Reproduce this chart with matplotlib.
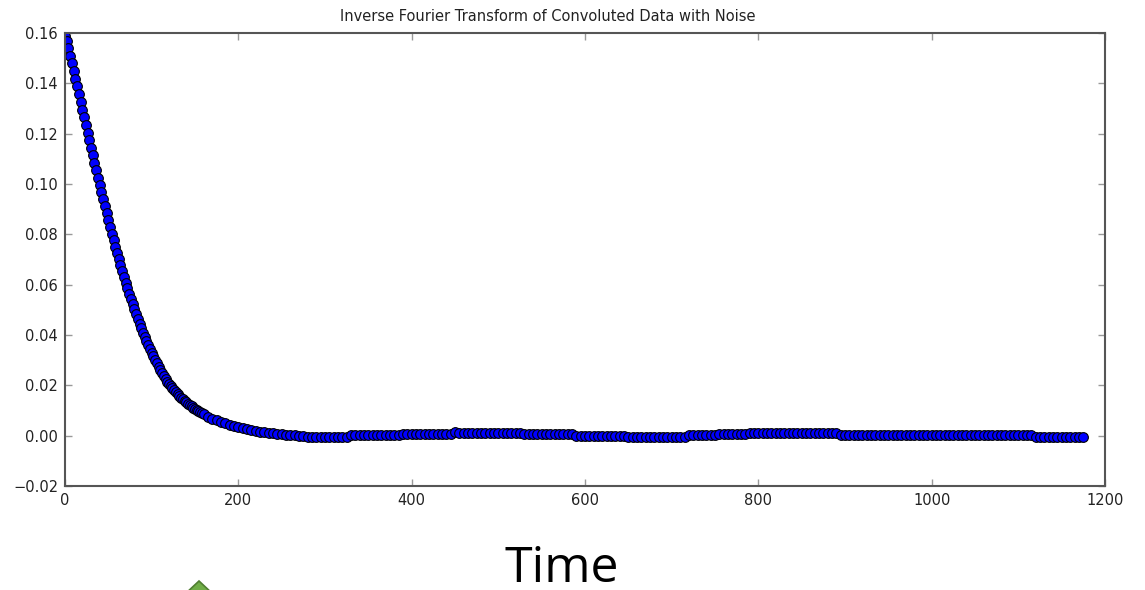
import numpy as np
import matplotlib
matplotlib.use('Agg')
import matplotlib.pyplot as plt
from matplotlib.patches import Polygon

plt.rcParams['font.family'] = ['DejaVu Sans']

title = 'Inverse Fourier Transform of Convoluted Data with Noise'
x_label = 'Time'

# decay part, sampled every 2 time units (0..160)
x_decay = np.arange(0, 161, 2)
y_decay = [
    0.1590, 0.1570, 0.1540, 0.1510, 0.1480, 0.1449, 0.1419, 0.1388, 0.1357, 0.1327,
    0.1296, 0.1265, 0.1235, 0.1204, 0.1174, 0.1144, 0.1114, 0.1084, 0.1054, 0.1025,
    0.0996, 0.0967, 0.0939, 0.0911, 0.0883, 0.0856, 0.0829, 0.0802, 0.0776, 0.0751,
    0.0726, 0.0701, 0.0677, 0.0653, 0.0630, 0.0608, 0.0585, 0.0564, 0.0543, 0.0522,
    0.0502, 0.0482, 0.0463, 0.0445, 0.0427, 0.0409, 0.0392, 0.0376, 0.0360, 0.0344,
    0.0329, 0.0315, 0.0301, 0.0287, 0.0274, 0.0261, 0.0249, 0.0238, 0.0226, 0.0215,
    0.0205, 0.0196, 0.0188, 0.0180, 0.0172, 0.0165, 0.0157, 0.0151, 0.0144, 0.0138,
    0.0132, 0.0126, 0.0121, 0.0116, 0.0111, 0.0106, 0.0101, 0.0097, 0.0093, 0.0089,
    0.0085,
]

# tail, sampled every 5 time units (165..1175)
x_tail = np.arange(165, 1176, 5)
y_tail = [
    0.0076, 0.0068, 0.0061, 0.0055, 0.0049, 0.0044, 0.0039, 0.0034, 0.0030, 0.0026,
    0.0022, 0.0019, 0.0016, 0.0013, 0.0011, 0.0009, 0.0007, 0.0005, 0.0003, 0.0002,
    0.0001, 0.0000, -0.0002, -0.0004, -0.0004, -0.0004, -0.0004, -0.0004, -0.0004, -0.0004,
    -0.0004, -0.0004, -0.0004, 0.0002, 0.0002, 0.0002, 0.0002, 0.0002, 0.0002, 0.0002,
    0.0002, 0.0002, 0.0002, 0.0002, 0.0002, 0.0008, 0.0008, 0.0008, 0.0008, 0.0008,
    0.0008, 0.0008, 0.0008, 0.0008, 0.0008, 0.0008, 0.0008, 0.0016, 0.0010, 0.0010,
    0.0010, 0.0010, 0.0010, 0.0010, 0.0010, 0.0010, 0.0010, 0.0010, 0.0010, 0.0010,
    0.0010, 0.0010, 0.0010, 0.0005, 0.0005, 0.0005, 0.0005, 0.0005, 0.0005, 0.0005,
    0.0005, 0.0005, 0.0005, 0.0005, 0.0005, 0.0000, 0.0000, 0.0000, 0.0000, 0.0000,
    0.0000, 0.0000, 0.0000, 0.0000, 0.0000, 0.0000, 0.0000, -0.0005, -0.0005, -0.0005,
    -0.0005, -0.0005, -0.0005, -0.0005, -0.0005, -0.0005, -0.0005, -0.0005, -0.0005, -0.0005,
    -0.0005, 0.0001, 0.0001, 0.0001, 0.0001, 0.0001, 0.0001, 0.0001, 0.0006, 0.0006,
    0.0006, 0.0006, 0.0006, 0.0006, 0.0006, 0.0009, 0.0009, 0.0009, 0.0009, 0.0009,
    0.0009, 0.0009, 0.0009, 0.0009, 0.0009, 0.0009, 0.0009, 0.0009, 0.0009, 0.0009,
    0.0009, 0.0009, 0.0009, 0.0009, 0.0009, 0.0009, 0.0004, 0.0004, 0.0004, 0.0004,
    0.0004, 0.0004, 0.0004, 0.0001, 0.0001, 0.0001, 0.0001, 0.0001, 0.0001, 0.0001,
    0.0001, 0.0001, 0.0001, 0.0001, 0.0001, 0.0001, 0.0001, 0.0001, 0.0001, 0.0001,
    0.0001, 0.0001, 0.0001, 0.0001, 0.0001, 0.0001, 0.0001, 0.0001, 0.0001, 0.0001,
    0.0001, 0.0001, 0.0001, 0.0001, 0.0001, 0.0001, 0.0001, 0.0001, 0.0001, 0.0001,
    0.0001, -0.0004, -0.0004, -0.0004, -0.0004, -0.0004, -0.0004, -0.0004, -0.0004, -0.0004,
    -0.0004, -0.0004, -0.0004,
]

x_ticks = [0, 200, 400, 600, 800, 1000, 1200]
y_ticks = [-0.02, 0.00, 0.02, 0.04, 0.06, 0.08, 0.10, 0.12, 0.14, 0.16]
y_tick_labels = ['\u22120.02', '0.00', '0.02', '0.04', '0.06', '0.08', '0.10', '0.12', '0.14', '0.16']

x = np.concatenate([x_decay, x_tail])
y = np.array(y_decay + y_tail)

fig = plt.figure(figsize=(11.45, 5.9), dpi=100)
ax = fig.add_axes([65 / 1145, 1 - 486 / 590, 1040 / 1145, 453 / 590])

ax.plot(x, y, 'o', ms=7, mfc='blue', mec='black', mew=0.8)

ax.set_xlim(0, 1200)
ax.set_ylim(-0.02, 0.16)
ax.set_xticks(x_ticks)
ax.set_xticklabels([str(t) for t in x_ticks])
ax.set_yticks(y_ticks)
ax.set_yticklabels(y_tick_labels)
ax.tick_params(direction='in', top=True, right=True, length=5, width=1,
               color='#999999', labelsize=10.5, pad=5, labelcolor='#222222')
for s in ax.spines.values():
    s.set_linewidth(1.5)
    s.set_color('#555555')

ax.text(0.464, 1.02, title, transform=ax.transAxes, ha='center', va='bottom',
        fontsize=10.5, color='#222222')

# slide caption below the chart
fig.text(562 / 1145, 1 - 582 / 590, x_label, ha='center', va='baseline',
         fontsize=36, family=['Open Sans', 'DejaVu Sans'])

# bit of a green shape peeking in at the bottom
tri = Polygon([[183 / 1145, -6 / 590], [199 / 1145, 9 / 590], [215 / 1145, -6 / 590]],
              closed=True, transform=fig.transFigure, facecolor='#70ad47',
              edgecolor='#507e32', lw=1.2)
fig.patches.append(tri)

fig.savefig('out.png', dpi=100)
